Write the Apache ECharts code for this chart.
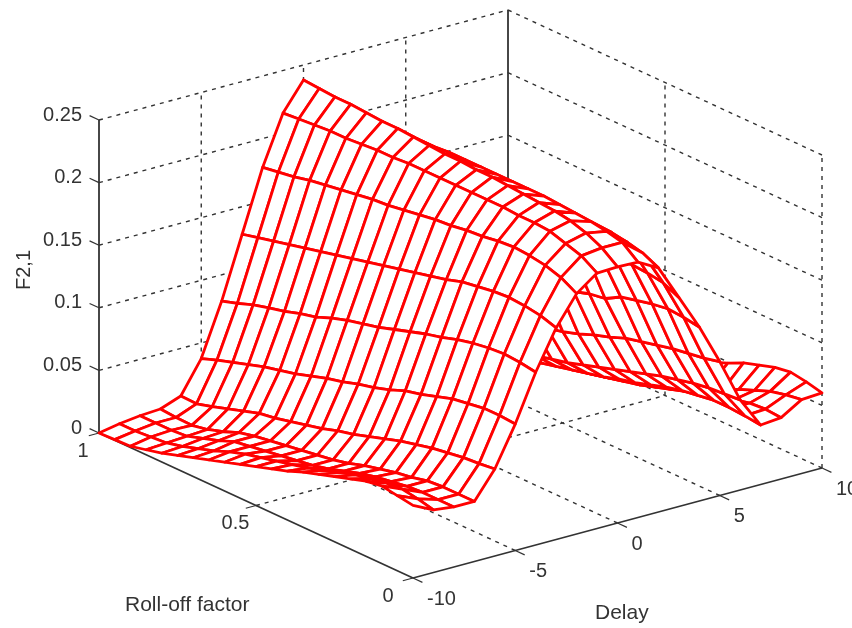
<!DOCTYPE html>
<html><head><meta charset="utf-8">
<style>html,body{margin:0;padding:0;background:#fff}#c{width:852px;height:628px}</style>
<script src="https://cdn.jsdelivr.net/npm/echarts@6/dist/echarts.min.js"></script>
</head><body><div id="c"></div>
<script>
const delays=[-10,-9,-8,-7,-6,-5,-4,-3,-2,-1,0,1,2,3,4,5,6,7,8,9,10];
const rolloffs=[1,.95,.9,.85,.8,.75,.7,.65,.6,.55,.5,.45,.4,.35,.3,.25,.2,.15,.1,.05,0];
const zDelayM10=[0,.0005,.001,.004,.007,.011,.015,.019,.023,.027,.031,.035,.039,.044,.048,.052,.056,.060,.062,.060,.058];
const zDelayM9=[.003,.003,.004,.005,.008,.012,.016,.021,.025,.028,.031,.034,.037,.041,.045,.049,.052,.054,.055,.053,.050];
const zDelayM8=[.005,.005,.005,.006,.010,.014,.019,.021,.023,.025,.027,.029,.032,.036,.040,.043,.045,.047,.048,.048,.048];
const zDelayM7=[.006,.005,.0045,.007,.011,.016,.019,.021,.023,.025,.027,.029,.032,.036,.039,.042,.044,.047,.048,.048,.048];
const zDelayM6=[.012,.0115,.015,.019,.023,.027,.029,.032,.035,.038,.042,.045,.049,.053,.057,.060,.063,.065,.067,.068,.0695];
const zDelayM5=[.0375,.042,.046,.050,.054,.057,.060,.064,.068,.071,.075,.078,.082,.087,.090,.094,.098,.100,.102,.102,.101];
const zDelayM4=[.079,.083,.0875,.091,.094,.098,.101,.106,.110,.113,.116,.120,.124,.128,.131,.135,.138,.140,.141,.140,.138];
const zDelayM3=[.128,.131,.134,.137,.140,.143,.146,.149,.152,.155,.158,.161,.164,.167,.171,.173,.175,.176,.175,.173,.169];
const zDelayM2=[.177,.179,.181,.184,.186,.188,.190,.192,.193,.195,.197,.199,.200,.202,.203,.205,.206,.205,.203,.199,.192];
const zDelayM1=[.216,.217,.218,.219,.219,.220,.221,.221,.222,.222,.222,.222,.222,.222,.222,.221,.221,.220,.216,.212,.204];
const zDelay0=[.238,.237,.236,.236,.235,.234,.234,.233,.232,.231,.231,.230,.230,.229,.228,.227,.226,.224,.220,.214,.2045];
const zDelayP1=[.215,.216,.217,.218,.219,.220,.221,.221,.222,.222,.222,.222,.222,.222,.222,.221,.220,.219,.217,.214,.204];
const zDelayP2=[.176,.178,.181,.184,.186,.188,.190,.191,.193,.195,.197,.198,.200,.202,.203,.204,.206,.206,.204,.201,.195];
const zDelayP3=[.127,.130,.134,.137,.140,.143,.146,.149,.152,.155,.158,.161,.164,.167,.170,.172,.174,.176,.175,.173,.167];
const zDelayP4=[.078,.082,.086,.090,.094,.097,.101,.105,.109,.113,.116,.119,.121,.125,.127,.134,.137,.140,.142,.141,.139];
const zDelayP5=[.037,.041,.045,.049,.053,.057,.060,.064,.067,.070,.073,.077,.082,.086,.091,.094,.097,.100,.102,.104,.107];
const zDelayP6=[.012,.014,.017,.020,.023,.026,.029,.032,.035,.038,.042,.046,.050,.054,.058,.062,.065,.068,.070,.071,.072];
const zDelayP7=[.006,.007,.008,.009,.011,.013,.016,.019,.022,.025,.028,.032,.035,.039,.043,.046,.048,.050,.050,.049,.0475];
const zDelayP8=[.005,.005,.006,.006,.007,.008,.010,.012,.014,.017,.020,.023,.027,.031,.035,.039,.043,.046,.049,.050,.049];
const zDelayP9=[.003,.003,.004,.004,.005,.006,.007,.009,.011,.013,.016,.019,.023,.028,.033,.038,.044,.049,.054,.057,.059];
const zDelayP10=[0,.002,.004,.006,.009,.012,.014,.016,.018,.022,.027,.032,.038,.044,.049,.055,.059,.063,.065,.063,.060];
const zByDelay=[zDelayM10,zDelayM9,zDelayM8,zDelayM7,zDelayM6,zDelayM5,zDelayM4,zDelayM3,zDelayM2,zDelayM1,zDelay0,
  zDelayP1,zDelayP2,zDelayP3,zDelayP4,zDelayP5,zDelayP6,zDelayP7,zDelayP8,zDelayP9,zDelayP10];
const delayTicks=[-10,-5,0,5,10];
const rolloffTicks=[1,0.5,0];
const zTicks=[0,0.05,0.1,0.15,0.2,0.25];
const zTickText=['0','0.05','0.1','0.15','0.2','0.25'];

// Orthographic view: data (delay, rolloff, z) -> plot units of the hidden axes
function project(d,r,z){
  return [413+20.45*(d+10)-314*r, 578-5.5*(d+10)-145*r-1252*z];
}
const FONT='Liberation Sans, Arial, sans-serif';
const INK='#333333';

// far-to-near quad order (painter's algorithm over the height field)
const quads=[];
for(let j=0;j<rolloffs.length-1;j++){
  for(let i=delays.length-2;i>=0;i--) quads.push([i,j]);
}
function segItem(api,seg,style){
  const a=api.coord(project(seg[0],seg[1],seg[2]));
  const b=api.coord(project(seg[3],seg[4],seg[5]));
  return {type:'line',shape:{x1:a[0],y1:a[1],x2:b[0],y2:b[1]},style:style};
}
const dashed=[],solid=[],ticks=[],texts=[];
zTicks.forEach(z=>{
  if(z>0){
    dashed.push([-10,1,z,10,1,z]);
    dashed.push([10,1,z,10,0,z]);
  }
  ticks.push([-10,1,z,-10,1.03,z]);
});
delayTicks.forEach(d=>{
  if(d>-10&&d<10){
    dashed.push([d,1,0,d,1,.25]);
    dashed.push([d,0,0,d,1,0]);
  }
  ticks.push([d,0,0,d,-.03,0]);
});
rolloffTicks.forEach(r=>{
  if(r>0&&r<1){
    dashed.push([10,r,0,10,r,.25]);
    dashed.push([-10,r,0,10,r,0]);
  }
  ticks.push([-10,r,0,-10.5,r,0]);
});
dashed.push([-10,1,0,10,1,0],[10,1,0,10,0,0],[10,0,0,10,0,.25]);
solid.push([-10,0,0,-10,1,0],[-10,0,0,10,0,0],[10,1,0,10,1,.25],[-10,1,0,-10,1,.25]);

zTicks.forEach((z,k)=>{const p=project(-10,1,z);texts.push([p[0]-17,p[1]-5,zTickText[k],'right'])});
delayTicks.forEach(d=>{const p=project(d,0,0);texts.push([p[0]+14,p[1]+21,String(d),'left'])});
rolloffTicks.forEach(r=>{const p=project(-10,r,0);texts.push([p[0]-16-9*(1-r),p[1]+18,String(r),'center'])});

function segSeries(name,list,style){
  return {type:'custom',name:name,coordinateSystem:'cartesian2d',silent:true,clip:false,animation:false,
    data:list.map((s,i)=>[i,0]),encode:{x:0,y:1},
    renderItem:(p,api)=>segItem(api,list[api.value(0)],style)};
}
const option={
  backgroundColor:'#fff',animation:false,
  grid:{left:0,right:0,top:0,bottom:0},
  xAxis:{type:'value',min:0,max:852,show:false},
  yAxis:{type:'value',min:0,max:628,inverse:true,show:false},
  tooltip:{show:false},
  series:[
    segSeries('walls',dashed,{stroke:INK,lineWidth:1.4,lineDash:[4,5],fill:null}),
    segSeries('axes',solid,{stroke:INK,lineWidth:1.8,fill:null}),
    segSeries('ticks',ticks,{stroke:INK,lineWidth:1.2,fill:null}),
    {type:'custom',name:'F2,1',coordinateSystem:'cartesian2d',silent:true,clip:false,animation:false,
      data:quads,encode:{x:0,y:1},
      renderItem:(p,api)=>{
        const i=api.value(0),j=api.value(1);
        const corner=(a,b)=>api.coord(project(delays[a],rolloffs[b],zByDelay[a][b]));
        return {type:'polygon',
          shape:{points:[corner(i,j),corner(i+1,j),corner(i+1,j+1),corner(i,j+1)]},
          style:{fill:'#fff',stroke:'#ff0000',lineWidth:2.8,lineJoin:'round'}};
      }},
    {type:'custom',name:'tick labels',coordinateSystem:'cartesian2d',silent:true,clip:false,animation:false,
      data:texts.map((t,i)=>[i,0]),encode:{x:0,y:1},
      renderItem:(p,api)=>{
        const t=texts[api.value(0)],c=api.coord([t[0],t[1]]);
        return {type:'text',x:c[0],y:c[1],
          style:{text:t[2],font:'20px '+FONT,fill:INK,align:t[3],verticalAlign:'middle'}};
      }}
  ],
  graphic:[
    {type:'text',left:125,top:595,style:{text:'Roll-off factor',font:'21px '+FONT,fill:INK}},
    {type:'text',left:595,top:603,style:{text:'Delay',font:'21px '+FONT,fill:INK}},
    {type:'text',x:24,y:270,rotation:Math.PI/2,
      style:{text:'F2,1',font:'20px '+FONT,fill:INK,align:'center',verticalAlign:'middle'}}
  ]
};
echarts.init(document.getElementById('c'),null,{renderer:'canvas'}).setOption(option);
</script></body></html>
